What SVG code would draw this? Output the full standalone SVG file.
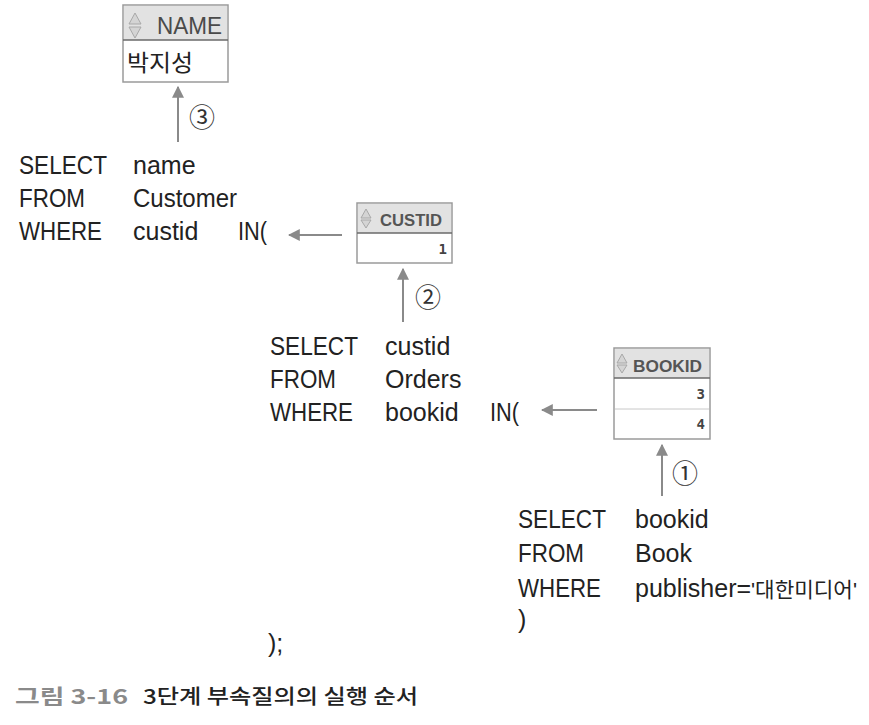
<svg xmlns="http://www.w3.org/2000/svg" width="869" height="725" viewBox="0 0 869 725">
<defs>
<style>
.sql{font-family:"Liberation Sans","Noto Sans CJK KR",sans-serif;font-size:25px;fill:#222;}
.sqlk{font-family:"Liberation Sans","Noto Sans CJK KR",sans-serif;font-size:21px;fill:#222;}
.kr{font-family:"Noto Sans CJK KR","Liberation Sans",sans-serif;}
.tb{fill:#fff;stroke:#9a9a9a;stroke-width:1.5;}
.hd{fill:#e2e2e2;}
.hl{stroke:#6a6a6a;stroke-width:1.5;}
.rl{stroke:#c8c8c8;stroke-width:1;}
.ht{font-family:"Liberation Sans",sans-serif;font-weight:bold;font-size:17px;fill:#555;}
.cv{font-family:"DejaVu Sans Mono","Liberation Mono",monospace;font-size:14px;font-weight:bold;fill:#444;}
.icon{fill:#d4d4d4;stroke:#a8a8a8;stroke-width:1;}
.conn{stroke:#8a8a8a;stroke-width:2;fill:none;}
.num{font-family:"Noto Sans CJK KR","DejaVu Sans",sans-serif;font-size:26px;fill:#333;}
</style>
<marker id="ah" viewBox="0 0 10 10" refX="9" refY="5" markerWidth="6" markerHeight="6" markerUnits="strokeWidth" orient="auto">
<path d="M0,0 L10,5 L0,10 Z" fill="#8a8a8a"/>
</marker>
</defs>
<rect width="869" height="725" fill="#fff"/>

<g id="table-name">
<rect class="tb" x="123" y="5" width="105" height="77"/>
<rect class="hd" x="124" y="6" width="103" height="34"/>
<line class="hl" x1="123" y1="40" x2="228" y2="40"/>
<path class="icon" d="M135,13 L141,24 L129,24 Z M135,38 L141,27 L129,27 Z"/>
<text x="157" y="34" font-family="Liberation Sans,sans-serif" font-size="24" fill="#4a4a4a" textLength="65" lengthAdjust="spacingAndGlyphs">NAME</text>
<text class="kr" x="127" y="71" font-size="23" fill="#222" textLength="66" lengthAdjust="spacingAndGlyphs">박지성</text>
</g>

<g id="table-custid">
<rect class="tb" x="357" y="203" width="95" height="60"/>
<rect class="hd" x="358" y="204" width="93" height="29"/>
<line class="hl" x1="357" y1="233" x2="452" y2="233"/>
<path class="icon" d="M366,209 L371,218 L361,218 Z M366,228 L371,220 L361,220 Z"/>
<text class="ht" x="380" y="226" textLength="62" lengthAdjust="spacingAndGlyphs">CUSTID</text>
<text class="cv" x="447" y="254" text-anchor="end">1</text>
</g>

<g id="table-bookid">
<rect class="tb" x="614" y="348" width="96" height="91"/>
<rect class="hd" x="615" y="349" width="94" height="29"/>
<line class="hl" x1="614" y1="378" x2="710" y2="378"/>
<line class="rl" x1="615" y1="409" x2="709" y2="409"/>
<path class="icon" d="M622,354 L627,363 L617,363 Z M622,373 L627,365 L617,365 Z"/>
<text class="ht" x="633" y="372" textLength="69" lengthAdjust="spacingAndGlyphs">BOOKID</text>
<text class="cv" x="705" y="399" text-anchor="end">3</text>
<text class="cv" x="705" y="429" text-anchor="end">4</text>
</g>

<g id="query-outer">
<text class="sql" x="19" y="174" textLength="88" lengthAdjust="spacingAndGlyphs">SELECT</text>
<text class="sql" x="19" y="207" textLength="66" lengthAdjust="spacingAndGlyphs">FROM</text>
<text class="sql" x="19" y="240" textLength="83" lengthAdjust="spacingAndGlyphs">WHERE</text>
<text class="sql" x="133" y="174">name</text>
<text class="sql" x="133" y="207" textLength="104" lengthAdjust="spacingAndGlyphs">Customer</text>
<text class="sql" x="133" y="240">custid</text>
<text class="sql" x="238" y="240" textLength="29" lengthAdjust="spacingAndGlyphs">IN(</text>
</g>

<g id="query-middle">
<text class="sql" x="270" y="355" textLength="88" lengthAdjust="spacingAndGlyphs">SELECT</text>
<text class="sql" x="270" y="388" textLength="66" lengthAdjust="spacingAndGlyphs">FROM</text>
<text class="sql" x="270" y="421" textLength="83" lengthAdjust="spacingAndGlyphs">WHERE</text>
<text class="sql" x="385" y="355">custid</text>
<text class="sql" x="385" y="388">Orders</text>
<text class="sql" x="385" y="421">bookid</text>
<text class="sql" x="490" y="421" textLength="29" lengthAdjust="spacingAndGlyphs">IN(</text>
</g>

<g id="query-inner">
<text class="sql" x="518" y="528" textLength="88" lengthAdjust="spacingAndGlyphs">SELECT</text>
<text class="sql" x="518" y="562" textLength="66" lengthAdjust="spacingAndGlyphs">FROM</text>
<text class="sql" x="518" y="597" textLength="83" lengthAdjust="spacingAndGlyphs">WHERE</text>
<text class="sql" x="518" y="628">)</text>
<text class="sql" x="635" y="528">bookid</text>
<text class="sql" x="635" y="562">Book</text>
<text class="sql" x="635" y="597">publisher=</text>
<text class="sqlk" x="751" y="597" textLength="106" lengthAdjust="spacingAndGlyphs">'대한미디어'</text>
</g>

<g id="query-end">
<text class="sql" x="268" y="652">);</text>
</g>

<g id="connectors">
<line class="conn" x1="178" y1="142" x2="178" y2="87" marker-end="url(#ah)"/>
<line class="conn" x1="403" y1="322" x2="403" y2="269" marker-end="url(#ah)"/>
<line class="conn" x1="662" y1="496" x2="662" y2="445" marker-end="url(#ah)"/>
<line class="conn" x1="342" y1="235" x2="289" y2="235" marker-end="url(#ah)"/>
<line class="conn" x1="597" y1="410" x2="542" y2="410" marker-end="url(#ah)"/>
</g>

<g id="step-labels">
<text class="num" x="202" y="127" text-anchor="middle">③</text>
<text class="num" x="428" y="307" text-anchor="middle">②</text>
<text class="num" x="685" y="483" text-anchor="middle">①</text>
</g>

<g id="caption">
<text x="15" y="704" font-family="Noto Sans CJK KR,Liberation Sans,sans-serif" font-weight="bold" font-size="20" fill="#8a8a8a" textLength="113" lengthAdjust="spacingAndGlyphs">그림 3-16</text>
<text x="143" y="704" font-family="Noto Sans CJK KR,Liberation Sans,sans-serif" font-weight="500" font-size="20" fill="#222" textLength="275" lengthAdjust="spacingAndGlyphs">3단계 부속질의의 실행 순서</text>
</g>
</svg>
